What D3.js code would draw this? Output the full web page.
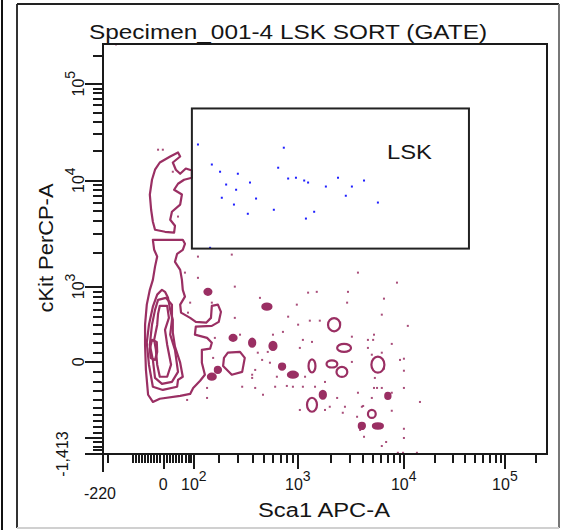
<!DOCTYPE html>
<html>
<head>
<meta charset="utf-8">
<script src="https://cdn.jsdelivr.net/npm/d3@7"></script>
<style>
  body { margin: 0; background: #fff; }
  svg { display: block; }
  text { font-family: "Liberation Sans", Arial, sans-serif; fill: #151515; }
</style>
</head>
<body>
<div id="chart"></div>
<script>
// axis ranges (scale values)
const X_MIN = -220, Y_MIN = -1413, TOP = 262144;

// tick values
const xMajor = [0, 100, 1000, 10000, 100000];
const xLabels = [{ v: 0, base: "0" }, { v: 100, base: "10", exp: "2" }, { v: 1000, base: "10", exp: "3" },
  { v: 10000, base: "10", exp: "4" }, { v: 100000, base: "10", exp: "5" }];
const yMajor = [-1000, 0, 1000, 10000, 100000];
const yLabels = [{ v: 0, base: "0" }, { v: 1000, base: "10", exp: "3" },
  { v: 10000, base: "10", exp: "4" }, { v: 100000, base: "10", exp: "5" }];
const mult = [2, 3, 4, 5, 6, 7, 8, 9];
const xMinor = [-200, ...d3.range(-100, 100, 10).filter(v => v !== 0),
  ...[100, 1000, 10000].flatMap(d => mult.map(m => m * d)), 200000];
const yMinor = [...d3.range(-1400, 1000, 100).filter(v => v !== 0 && v !== -1000),
  ...[1000, 10000].flatMap(d => mult.map(m => m * d)), 200000];

// gate (channel units 0-1024)
const gate = { x0: 205, x1: 844, y0: 513, y1: 863, name: "LSK" };

// events inside the gate (channel units)
const lskEvents = [[219,773],[417,765],[251,723],[404,715],[270,705],[311,700],[284,673],[339,678],
  [307,660],[427,688],[445,690],[464,683],[473,678],[542,690],[602,683],[514,668],[574,668],
  [274,640],[353,638],[560,645],[634,628],[302,623],[394,610],[487,605],[334,600],[468,588],[247,515]];

// events outside the gate (channel units)
const otherEvents = [[30,1023],[127,760],[138,760],[161,705],[173,593],[219,493],[297,498],[189,453],
  [219,440],[588,453],[304,418],[201,378],[251,378],[362,390],[473,403],[493,405],[565,405],[447,373],
  [563,378],[196,353],[304,340],[427,343],[477,333],[500,333],[547,328],[450,323],[415,305],[392,298],
  [316,298],[574,293],[611,285],[461,285],[482,280],[258,290],[357,253],[380,255],[454,265],[254,240],
  [367,235],[385,228],[574,230],[401,193],[351,210],[344,198],[344,190],[512,180],[466,193],[240,165],
  [321,168],[351,165],[397,168],[424,170],[438,168],[461,168],[489,168],[588,153],[369,148],[240,140],
  [194,135],[540,140],[454,110],[523,118],[558,118],[512,110],[597,118],[553,103],[586,93],[632,165],
  [627,190],[623,285],[611,265],[678,428],[648,388],[643,348],[703,320],[625,298],[666,275],[620,248],
  [643,253],[694,238],[685,235],[694,208],[648,213],[625,165],[643,165],[694,165],[620,140],[666,153],
  [731,130],[600,120],[666,108],[694,63],[602,43],[694,40],[643,20],[653,30],[593,60],[680,3],[692,3],[724,3]];

// density contours (channel units)
const contourUpper = [[173,753],[155,743],[131,728],[120,710],[113,685],[108,648],[111,610],[115,580],
  [120,560],[143,555],[164,553],[166,570],[155,585],[159,605],[178,623],[182,648],[164,660],[173,675],
  [187,685],[205,690],[205,708],[191,713],[178,700],[168,710],[161,728],[178,743]];
const contourOuter = [[115,535],[184,535],[189,525],[184,510],[171,500],[166,480],[178,460],[182,435],
  [184,410],[189,393],[178,373],[180,353],[201,340],[214,330],[238,328],[249,340],[251,370],[265,373],
  [272,355],[267,330],[251,320],[214,318],[212,298],[240,290],[251,278],[247,263],[228,260],[228,228],
  [235,198],[224,183],[208,165],[201,150],[178,145],[131,138],[115,130],[104,148],[99,210],[97,273],
  [97,323],[101,373],[108,410],[115,435],[120,468],[125,493],[118,510]];
const contourLevel2 = [[136,410],[125,398],[115,368],[106,323],[101,278],[106,223],[115,168],[138,160],
  [171,168],[173,185],[184,193],[178,228],[166,268],[161,303],[161,335],[155,360],[150,390],[143,405]];
const contourLevel3 = [[127,385],[145,390],[159,373],[159,335],[155,298],[166,260],[173,205],[159,180],
  [136,175],[120,190],[115,235],[108,273],[113,323],[120,360]];
const contourLevel4 = [[131,370],[148,370],[152,340],[143,310],[148,273],[157,223],[148,193],[131,193],
  [125,223],[122,260],[118,285],[125,323],[127,350]];
const contourCore = [[113,285],[124,280],[125,255],[120,235],[110,240],[108,262]];
const contourRing = [[288,253],[316,255],[327,240],[321,205],[297,198],[277,220],[279,240]];
const contours = [contourUpper, contourOuter, contourLevel2, contourLevel3, contourLevel4, contourCore, contourRing];

// small density islands: [cx, cy, width, height, filled]
const islands = [[242,405,16,15,1],[378,368,21,15,1],[300,290,16,15,1],[344,278,14,20,1],
  [392,270,16,20,1],[413,218,14,15,1],[438,198,23,15,1],[482,220,16,33,0],[528,225,25,18,0],
  [551,205,25,25,0],[533,323,28,33,0],[556,265,32,20,0],[482,123,23,35,0],[507,148,14,20,1],
  [620,100,18,20,0],[597,70,14,15,1],[634,70,23,13,1],[634,223,30,40,0],[657,145,12,15,1],
  [265,210,14,15,1],[251,193,18,15,1]];

// frame geometry
const W = 563, H = 530;
const PLOT = { left: 103, right: 547, top: 44, bottom: 454 };
const MAROON = "#9a2f63", BLUE = "#1f1fff", INK = "#1a1a1a";

// Parks logicle transform, A = 0: value -> natural-log units from zero
function logicle(T, Wd, M) {
  const w = Wd * Math.LN10;
  let lo = 1, hi = 1000;
  for (let i = 0; i < 100; i++) {
    const mid = (lo + hi) / 2;
    if (2 * mid * Math.log(mid) / (mid + 1) > w) hi = mid; else lo = mid;
  }
  const p = (lo + hi) / 2;
  const k = T * Math.exp(-(M - Wd) * Math.LN10);
  const S = u => k * (Math.exp(u) - p * p * Math.exp(-u / p) + p * p - 1);
  return v => {
    const a = Math.abs(v);
    let l = 0, h = M * Math.LN10 + 2;
    for (let i = 0; i < 80; i++) {
      const mid = (l + h) / 2;
      if (S(mid) > a) h = mid; else l = mid;
    }
    return Math.sign(v) * (l + h) / 2;
  };
}
const xT = logicle(TOP, 0.553, 4.373);
const yT = logicle(TOP, 0.63, 3.998);
const xChannel = v => 1024 * (xT(v) - xT(X_MIN)) / (xT(TOP) - xT(X_MIN));
const yChannel = v => 1024 * (yT(v) - yT(Y_MIN)) / (yT(TOP) - yT(Y_MIN));

const x = d3.scaleLinear().domain([0, 1024]).range([PLOT.left, PLOT.right]);
const y = d3.scaleLinear().domain([0, 1024]).range([PLOT.bottom, PLOT.top]);

const svg = d3.select("#chart").append("svg")
  .attr("width", W).attr("height", H)
  .attr("viewBox", [0, 0, W, H]);

// window frame
svg.append("rect").attr("x", 1).attr("y", 0).attr("width", 2).attr("height", H).attr("fill", "#111");
svg.append("line").attr("x1", 17).attr("y1", 4).attr("x2", 17).attr("y2", 528).attr("stroke", "#333").attr("stroke-width", 2);
svg.append("line").attr("x1", 17).attr("y1", 4).attr("x2", 559).attr("y2", 4).attr("stroke", "#222").attr("stroke-width", 2);
svg.append("line").attr("x1", 559).attr("y1", 4).attr("x2", 559).attr("y2", 528).attr("stroke", "#777").attr("stroke-width", 2);
svg.append("line").attr("x1", 17).attr("y1", 528).attr("x2", 559).attr("y2", 528).attr("stroke", "#d0d0d0").attr("stroke-width", 2);

// contours
const line = d3.line().x(d => x(d[0])).y(d => y(d[1])).curve(d3.curveLinearClosed);
svg.append("g").selectAll("path").data(contours).join("path")
  .attr("d", line)
  .attr("fill", "none").attr("stroke", MAROON).attr("stroke-width", 2.2)
  .attr("stroke-linejoin", "round");

svg.append("g").selectAll("ellipse").data(islands).join("ellipse")
  .attr("cx", d => x(d[0])).attr("cy", d => y(d[1]))
  .attr("rx", d => (x(d[2]) - x(0)) / 2).attr("ry", d => (y(0) - y(d[3])) / 2)
  .attr("fill", d => d[4] ? MAROON : "none")
  .attr("stroke", MAROON).attr("stroke-width", 2.2);

// events
svg.append("g").selectAll("rect").data(otherEvents).join("rect")
  .attr("x", d => x(d[0]) - 1).attr("y", d => y(d[1]) - 1)
  .attr("width", 2).attr("height", 2).attr("fill", MAROON).attr("opacity", 0.85);
svg.append("g").selectAll("rect").data(lskEvents).join("rect")
  .attr("x", d => x(d[0]) - 1).attr("y", d => y(d[1]) - 1)
  .attr("width", 2).attr("height", 2).attr("fill", BLUE);

// gate
svg.append("rect")
  .attr("x", x(gate.x0)).attr("y", y(gate.y1))
  .attr("width", x(gate.x1) - x(gate.x0)).attr("height", y(gate.y0) - y(gate.y1))
  .attr("fill", "none").attr("stroke", "#222").attr("stroke-width", 2);
svg.append("text")
  .attr("x", 409.5).attr("y", 159)
  .attr("text-anchor", "middle")
  .attr("textLength", 45).attr("lengthAdjust", "spacingAndGlyphs")
  .style("font-size", "20px")
  .text(gate.name);

// plot box + axis line extensions
svg.append("rect")
  .attr("x", PLOT.left).attr("y", PLOT.top)
  .attr("width", PLOT.right - PLOT.left).attr("height", PLOT.bottom - PLOT.top)
  .attr("fill", "none").attr("stroke", INK).attr("stroke-width", 2);
svg.append("line").attr("x1", PLOT.left).attr("y1", PLOT.bottom).attr("x2", PLOT.left).attr("y2", PLOT.bottom + 18)
  .attr("stroke", INK).attr("stroke-width", 2);
svg.append("line").attr("x1", PLOT.left - 18).attr("y1", PLOT.bottom).attr("x2", PLOT.left).attr("y2", PLOT.bottom)
  .attr("stroke", INK).attr("stroke-width", 2);

// title (drawn over the box so the underscore shows)
svg.append("text")
  .attr("x", 288).attr("y", 39)
  .attr("text-anchor", "middle")
  .attr("textLength", 398).attr("lengthAdjust", "spacingAndGlyphs")
  .style("font-size", "20px")
  .text("Specimen_001-4 LSK SORT (GATE)");

// ticks
function ticks(axis, values, size) {
  const g = svg.append("g")
    .attr("transform", axis === "x" ? `translate(0,${PLOT.bottom + 1})` : `translate(${PLOT.left - 1},0)`)
    .call((axis === "x" ? d3.axisBottom(x) : d3.axisLeft(y))
      .tickValues(values.map(axis === "x" ? xChannel : yChannel))
      .tickSize(size).tickFormat(""));
  g.select(".domain").remove();
  g.selectAll("line").attr("stroke", INK).attr("stroke-width", 2).attr("shape-rendering", "crispEdges");
}
ticks("x", xMinor, 8);
ticks("x", xMajor, 14);
ticks("y", yMinor, 9);
ticks("y", yMajor, 17);

// x tick labels
const xl = svg.append("g").selectAll("text").data(xLabels).join("text")
  .attr("x", d => x(xChannel(d.v)))
  .attr("y", 490)
  .attr("text-anchor", "middle")
  .style("font-size", "16px");
xl.append("tspan").text(d => d.base);
xl.filter(d => d.exp).append("tspan").attr("dy", -9).style("font-size", "14px").text(d => d.exp);
svg.append("text").attr("x", x(xChannel(X_MIN)) - 3).attr("y", 499)
  .attr("text-anchor", "middle").style("font-size", "16px").text("-220");

// y tick labels
const yl = svg.append("g").selectAll("text").data(yLabels).join("text")
  .attr("transform", d => `translate(84,${y(yChannel(d.v))}) rotate(-90)`)
  .attr("text-anchor", "middle")
  .style("font-size", "16px");
yl.append("tspan").text(d => d.base);
yl.filter(d => d.exp).append("tspan").attr("dy", -9).style("font-size", "14px").text(d => d.exp);
svg.append("text").attr("transform", `translate(68,${y(yChannel(Y_MIN))}) rotate(-90)`)
  .attr("text-anchor", "middle").style("font-size", "16px").text("-1,413");

// axis titles
svg.append("text")
  .attr("x", 324).attr("y", 517)
  .attr("text-anchor", "middle")
  .attr("textLength", 132).attr("lengthAdjust", "spacingAndGlyphs")
  .style("font-size", "20px")
  .text("Sca1 APC-A");
svg.append("text")
  .attr("transform", "translate(53,248) rotate(-90)")
  .attr("text-anchor", "middle")
  .attr("textLength", 129).attr("lengthAdjust", "spacingAndGlyphs")
  .style("font-size", "20px")
  .text("cKit PerCP-A");
</script>
</body>
</html>
